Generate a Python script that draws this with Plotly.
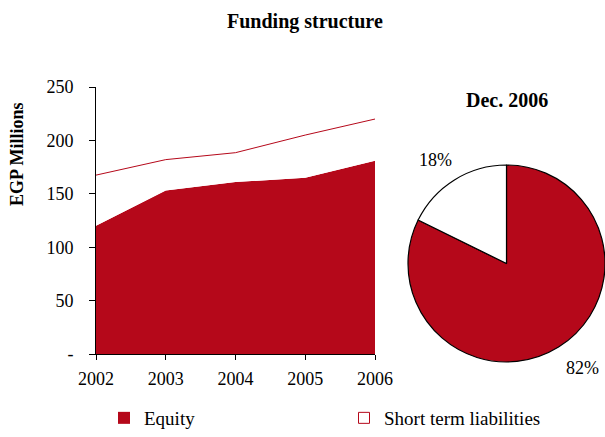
import plotly.graph_objects as go

# Funding structure, EGP millions
years = [2002, 2003, 2004, 2005, 2006]
equity = [120, 153, 161, 165, 181]
short_term_liabilities = [47.5, 29, 27.5, 40, 39]

pie_labels = ["Equity", "Short term liabilities"]
pie_values = [equity[-1], short_term_liabilities[-1]]

y_tick_vals = [0, 50, 100, 150, 200, 250]
y_tick_text = ["-", "50", "100", "150", "200", "250"]

RED = "#B5081A"
FONT = "Liberation Serif"
W, H = 605, 437

fig = go.Figure()

fig.add_trace(go.Scatter(
    x=years, y=equity, stackgroup="funding", mode="lines",
    line=dict(width=0, color=RED), fillcolor=RED,
    name="Equity", showlegend=False, hoverinfo="skip",
))
fig.add_trace(go.Scatter(
    x=years, y=short_term_liabilities, stackgroup="funding", mode="lines",
    line=dict(width=1, color=RED), fillcolor="white",
    name="Short term liabilities", showlegend=False, hoverinfo="skip",
))

# legend swatches, one legend box each
fig.add_trace(go.Scatter(
    x=[None], y=[None], mode="markers", name="Equity", legend="legend",
    marker=dict(symbol="square", size=12, color=RED, line=dict(width=0)),
))
fig.add_trace(go.Scatter(
    x=[None], y=[None], mode="markers", name="Short term liabilities", legend="legend2",
    marker=dict(symbol="square", size=11, color="white", line=dict(width=1, color=RED)),
))

fig.add_trace(go.Pie(
    labels=pie_labels, values=pie_values,
    marker=dict(colors=[RED, "white"], line=dict(color="black", width=1.2)),
    sort=False, direction="clockwise", rotation=0,
    textinfo="none", showlegend=False, hoverinfo="skip",
    domain=dict(x=[408 / W, 1.0], y=[(H - 362) / H, (H - 165) / H]),
))

total = sum(pie_values)
pcts = [round(100 * v / total) for v in pie_values]


def note(text, px, py, size, angle=0):
    return dict(text=text, x=px / W, y=(H - py) / H, textangle=angle,
                xref="paper", yref="paper", xanchor="center", yanchor="middle",
                showarrow=False, font=dict(family=FONT, size=size, color="black"))


annotations = [
    note("<b>Funding structure</b>", 305, 22, 20),
    note("<b>Dec. 2006</b>", 507, 100, 20),
    note("<b>EGP Millions</b>", 17, 154, 18, angle=-90),
    note(f"{pcts[1]}%", 435, 160, 18),
    note(f"{pcts[0]}%", 582, 368, 18),
]


def legend_box(px):
    return dict(
        orientation="h", x=px / W, xanchor="left", y=0, yanchor="bottom",
        font=dict(family=FONT, size=19), bgcolor="rgba(0,0,0,0)",
        itemclick=False, itemdoubleclick=False,
    )


fig.update_layout(
    width=W, height=H,
    margin=dict(l=0, r=0, t=0, b=0),
    paper_bgcolor="white", plot_bgcolor="white",
    font=dict(family=FONT, size=18, color="black"),
    annotations=annotations,
    xaxis=dict(
        domain=[96 / W, 375 / W], range=[2002, 2006],
        tickvals=years, ticktext=[str(y) for y in years],
        showline=True, linecolor="black", linewidth=1,
        ticks="outside", ticklen=5, tickcolor="black",
        ticklabelstandoff=3,
        showgrid=False, zeroline=False, automargin=False,
        tickfont=dict(family=FONT, size=18),
    ),
    yaxis=dict(
        domain=[(H - 354) / H, (H - 87) / H], range=[0, 250],
        tickvals=y_tick_vals, ticktext=y_tick_text,
        showline=True, linecolor="black", linewidth=1,
        ticks="outside", ticklen=6, tickcolor="black",
        ticklabelstandoff=12,
        showgrid=False, zeroline=False, automargin=False,
        tickfont=dict(family=FONT, size=18),
    ),
    legend=legend_box(104),
    legend2=legend_box(344),
    showlegend=True,
)

fig.write_html("out.html")
